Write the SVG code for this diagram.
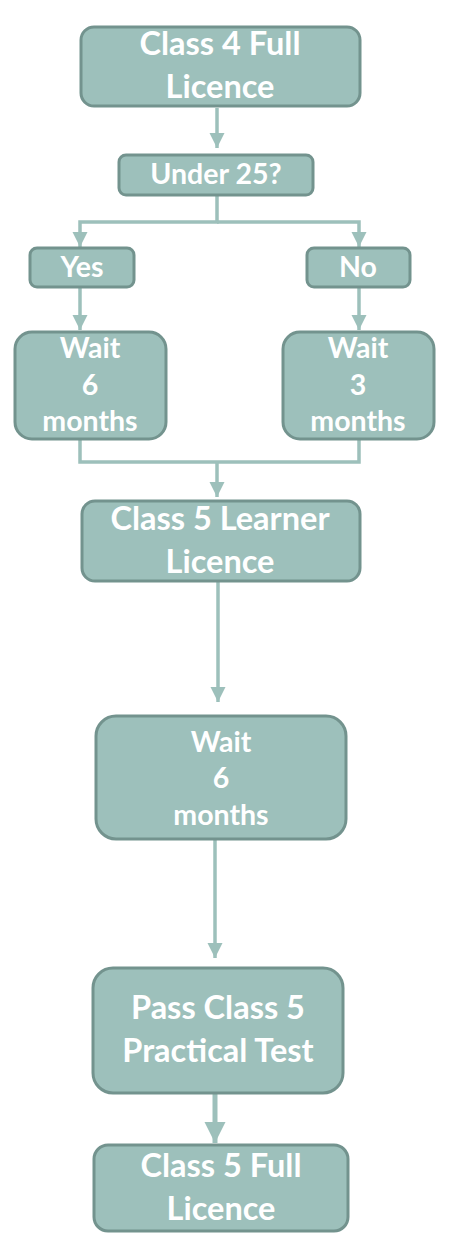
<svg xmlns="http://www.w3.org/2000/svg" width="450" height="1256" viewBox="0 0 450 1256">
<style>
.box{fill:#9DC0BB;stroke:#73938E;stroke-width:3}
.t{fill:#ffffff;font-family:Lato,"Open Sans","Liberation Sans",sans-serif;font-weight:bold;text-anchor:middle}
.L{font-size:32.5px}
.S{font-size:28.5px}
.c{fill:none;stroke:#9DC0BB;stroke-width:3.5}
.a{fill:#9DC0BB}
</style>
<defs>
<marker id="ah" viewBox="0 0 10 10" refX="10" refY="5" markerWidth="4.3" markerHeight="4.3" markerUnits="strokeWidth" orient="auto">
<path d="M0,0 L10,5 L0,10 Z" class="a"/>
</marker>
</defs>
<rect width="450" height="1256" fill="#ffffff"/>
<g id="connectors">
<path class="c" d="M217,108 V148" marker-end="url(#ah)"/>
<path class="c" d="M217,196 V222 H80 V247" marker-end="url(#ah)"/>
<path class="c" d="M217,222 H359 V247" marker-end="url(#ah)"/>
<path class="c" d="M80,288 V330" marker-end="url(#ah)"/>
<path class="c" d="M359,288 V330" marker-end="url(#ah)"/>
<path class="c" d="M80,440 V462 H359 V440"/>
<path class="c" d="M217,462 V497" marker-end="url(#ah)"/>
<path class="c" d="M218,582 V702" marker-end="url(#ah)"/>
<path class="c" d="M215,840 V958" marker-end="url(#ah)"/>
<path class="c" d="M215,1094 V1143" style="stroke-width:5" marker-end="url(#ah)"/>
</g>
<g id="n1"><rect class="box" x="81" y="27" width="279" height="79" rx="13"/>
<text class="t L" x="220" y="55">Class 4 Full</text><text class="t L" x="220" y="98">Licence</text></g>
<g id="n2"><rect class="box" x="119" y="155" width="194" height="40" rx="7"/>
<text class="t S" x="216" y="184">Under 25?</text></g>
<g id="n3"><rect class="box" x="30" y="248" width="104" height="39" rx="7"/>
<text class="t S" x="82" y="277">Yes</text></g>
<g id="n4"><rect class="box" x="307" y="248" width="103" height="39" rx="7"/>
<text class="t S" x="358" y="277">No</text></g>
<g id="n5"><rect class="box" x="15" y="332" width="151" height="107" rx="17"/>
<text class="t S" x="90" y="358">Wait</text><text class="t S" x="90" y="395">6</text><text class="t S" x="90" y="431">months</text></g>
<g id="n6"><rect class="box" x="283" y="332" width="151" height="107" rx="17"/>
<text class="t S" x="358" y="358">Wait</text><text class="t S" x="358" y="395">3</text><text class="t S" x="358" y="431">months</text></g>
<g id="n7"><rect class="box" x="82" y="501" width="278" height="80" rx="13"/>
<text class="t L" x="220" y="530">Class 5 Learner</text><text class="t L" x="220" y="573">Licence</text></g>
<g id="n8"><rect class="box" x="96" y="716" width="250" height="123" rx="20"/>
<text class="t S" x="221" y="752">Wait</text><text class="t S" x="221" y="788">6</text><text class="t S" x="221" y="825">months</text></g>
<g id="n9"><rect class="box" x="93" y="968" width="250" height="125" rx="20"/>
<text class="t L" x="218" y="1019">Pass Class 5</text><text class="t L" x="218" y="1062">Practical Test</text></g>
<g id="n10"><rect class="box" x="94" y="1145" width="254" height="86" rx="14"/>
<text class="t L" x="221" y="1177">Class 5 Full</text><text class="t L" x="221" y="1220">Licence</text></g>
</svg>
